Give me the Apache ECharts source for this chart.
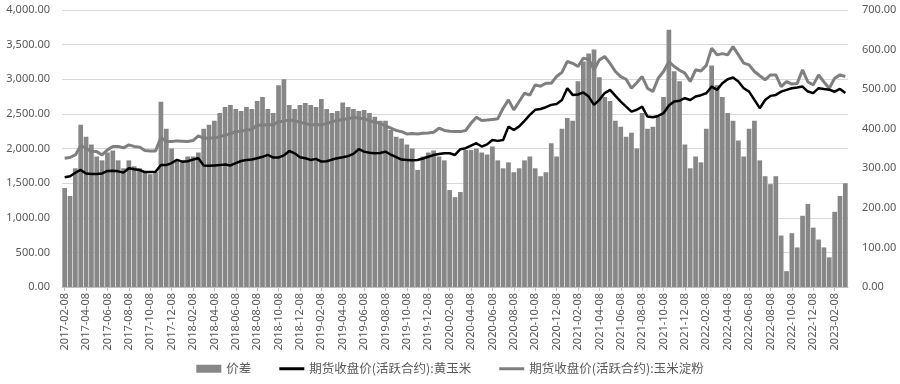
<!DOCTYPE html>
<html>
<head>
<meta charset="utf-8">
<script src="https://cdn.jsdelivr.net/npm/echarts@6/dist/echarts.min.js"></script>
<style>html,body{margin:0;padding:0;background:#fff;}#c{width:900px;height:384px;}</style>
</head>
<body>
<div id="c"></div>
<script>
// Categories: semi-monthly dates (08 and 23 of each month), 2017-02-08 .. 2023-03-08
const startYear = 2017, startMonth = 2, nPoints = 147;
const categories = [];
for (let i = 0; i < nPoints; i++) {
  const m = startMonth - 1 + Math.floor(i / 2);
  const y = startYear + Math.floor(m / 12);
  const mm = String(m % 12 + 1).padStart(2, '0');
  categories.push(y + '-' + mm + '-' + (i % 2 === 0 ? '08' : '23'));
}

const legendNames = ['价差', '期货收盘价(活跃合约):黄玉米', '期货收盘价(活跃合约):玉米淀粉'];

// Spread (right axis)
const spread = [
  250,230, 300,410, 380,360, 330,320, 340,345, 320,300, 320,305, 300,290, 285,290,
  468,400, 350,320, 320,330, 330,340, 400,410, 420,440, 455,460, 450,445, 455,450,
  470,480, 450,440, 510,525, 460,450, 460,465, 460,455, 475,450, 440,445, 466,455,
  450,445, 447,440, 430,420, 420,397, 380,375, 360,350, 296,330, 340,345, 330,320,
  245,227, 240,346, 346,350, 340,335, 355,320, 300,315, 290,300, 320,330, 300,280,
  290,363, 330,400, 427,420, 520,570, 590,600, 530,480, 470,420, 405,380, 390,350,
  440,400, 405,430, 480,650, 545,520, 360,300, 330,315, 400,560, 510,480, 440,420,
  370,330, 400,420, 320,280, 260,280, 130,40, 136,100, 180,210, 150,120, 100,75,
  190,230, 262
];

// Corn futures close (left axis)
const corn = [
  1585,1600, 1650,1690, 1640,1633, 1633,1640, 1676,1680, 1670,1652, 1715,1700, 1690,1660, 1660,1665,
  1763,1760, 1790,1835, 1810,1815, 1840,1860, 1753,1750, 1755,1760, 1770,1755, 1790,1820, 1835,1840,
  1860,1880, 1907,1870, 1870,1900, 1965,1930, 1874,1860, 1835,1850, 1811,1815, 1840,1860, 1874,1890,
  1922,1990, 1955,1940, 1932,1935, 1955,1910, 1874,1840, 1835,1830, 1835,1855, 1880,1905, 1920,1932,
  1932,1907, 1990,2004, 2040,2076, 2028,2060, 2124,2110, 2124,2316, 2268,2320, 2400,2485, 2558,2570,
  2596,2630, 2644,2700, 2871,2774, 2780,2810, 2750,2630, 2702,2800, 2847,2760, 2678,2605, 2533,2560,
  2605,2461, 2452,2470, 2510,2620, 2678,2690, 2726,2700, 2750,2770, 2798,2894, 2847,2943, 3000,3025,
  2967,2871, 2822,2702, 2582,2700, 2760,2774, 2822,2847, 2871,2880, 2894,2822, 2800,2871, 2860,2850,
  2820,2860, 2800
];

// Corn starch futures close (left axis)
const starch = [
  1860,1870, 1907,2040, 2004,1955, 1955,1907, 1980,2028, 2030,2010, 2052,2030, 2020,1970, 1965,1965,
  2160,2100, 2100,2110, 2105,2100, 2115,2182, 2148,2150, 2150,2170, 2196,2210, 2244,2250, 2268,2275,
  2341,2335, 2345,2340, 2389,2395, 2413,2400, 2380,2360, 2341,2345, 2341,2360, 2389,2400, 2423,2430,
  2447,2440, 2430,2400, 2380,2365, 2326,2293, 2260,2244, 2211,2215, 2211,2220, 2225,2235, 2293,2260,
  2250,2244, 2244,2260, 2365,2452, 2403,2410, 2420,2430, 2582,2702, 2558,2678, 2798,2770, 2919,2900,
  2943,2943, 3039,3100, 3256,3230, 3184,3305, 3290,3136, 3280,3328, 3230,3112, 3039,3000, 2871,2950,
  3039,2871, 2822,3015, 3112,3256, 3184,3130, 3088,2967, 3136,3120, 3200,3449, 3352,3370, 3352,3473,
  3352,3232, 3208,3112, 3050,2991, 3063,3063, 2894,2967, 2930,2940, 3136,2960, 2919,3063, 2960,2871,
  3015,3063, 3040
];

const chart = echarts.init(document.getElementById('c'));
const fmt2 = v => v.toLocaleString('en-US', {minimumFractionDigits: 2, maximumFractionDigits: 2});
const axisFont = {color: '#595959', fontSize: 11, fontFamily: 'Noto Sans'};
const lineIcon = 'path://M0,0H25V3H0Z';

chart.setOption({
  animation: false,
  backgroundColor: '#fff',
  grid: {left: 62, right: 52, top: 10, bottom: 97},
  legend: {
    bottom: 4, left: 'center', itemGap: 28, itemWidth: 25, itemHeight: 8,
    textStyle: {color: '#595959', fontSize: 12.5, fontFamily: 'Noto Sans CJK SC'},
    data: [
      {name: legendNames[0], icon: 'rect'},
      {name: legendNames[1], icon: lineIcon},
      {name: legendNames[2], icon: lineIcon}
    ]
  },
  xAxis: {
    type: 'category', data: categories, boundaryGap: true,
    axisLine: {lineStyle: {color: '#bfbfbf'}},
    axisTick: {show: true, interval: 3, alignWithLabel: true, length: 4, lineStyle: {color: '#bfbfbf'}},
    axisLabel: Object.assign({interval: 3, rotate: 90, margin: 6}, axisFont),
    splitLine: {show: false}
  },
  yAxis: [
    {
      type: 'value', min: 0, max: 4000, interval: 500, position: 'left',
      axisLine: {show: false}, axisTick: {show: false},
      axisLabel: Object.assign({formatter: v => fmt2(v), margin: 12}, axisFont),
      splitLine: {lineStyle: {color: '#d9d9d9'}}
    },
    {
      type: 'value', min: 0, max: 700, interval: 100, position: 'right',
      axisLine: {show: false}, axisTick: {show: false},
      axisLabel: Object.assign({formatter: v => fmt2(v), margin: 14}, axisFont),
      splitLine: {show: false}
    }
  ],
  series: [
    {
      name: legendNames[0], type: 'bar', yAxisIndex: 1, data: spread,
      barCategoryGap: '12%', itemStyle: {color: '#878787'}, z: 1
    },
    {
      name: legendNames[1], type: 'line', yAxisIndex: 0, data: corn,
      symbol: 'none', lineStyle: {color: '#000', width: 2.5}, itemStyle: {color: '#000'}, z: 3
    },
    {
      name: legendNames[2], type: 'line', yAxisIndex: 0, data: starch,
      symbol: 'none', lineStyle: {color: '#7f7f7f', width: 3}, itemStyle: {color: '#7f7f7f'}, z: 2
    }
  ]
});
</script>
</body>
</html>
